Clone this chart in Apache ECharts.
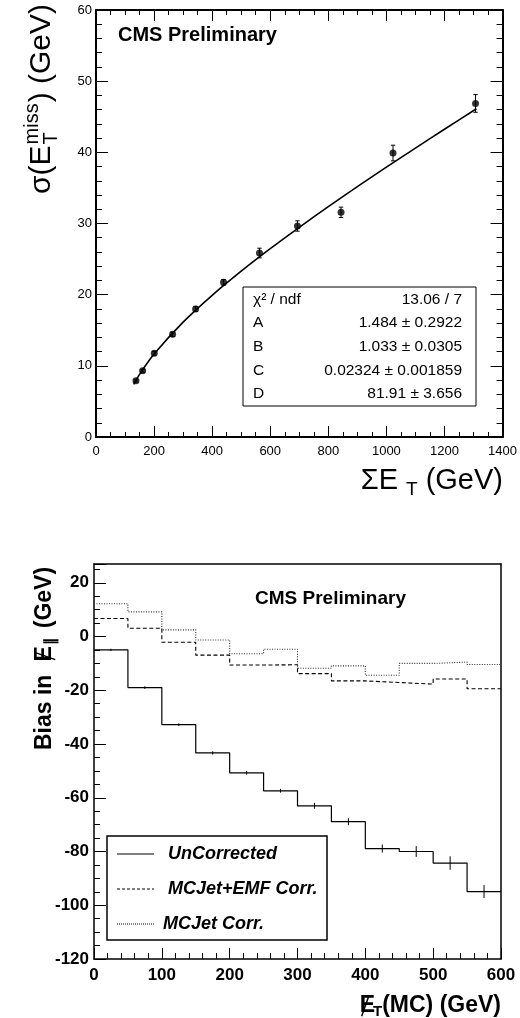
<!DOCTYPE html>
<html><head><meta charset="utf-8">
<script src="https://cdn.jsdelivr.net/npm/echarts@6/dist/echarts.min.js"></script>
<style>html,body{margin:0;padding:0;background:#fff}#c{width:520px;height:1018px}</style>
</head><body><div id="c"></div>
<script>
// ---------- Top panel: resolution vs sum ET ----------
const sumEt    = [137.6, 160.6, 200.6, 263.8, 343.0, 439.2, 563.0, 693.7, 843.8, 1022.8, 1307.0];
const sigmaMet = [7.9, 9.3, 11.76, 14.43, 17.99, 21.73, 25.85, 29.65, 31.57, 39.9, 46.87];
const sigmaErr = [0.15, 0.2, 0.25, 0.3, 0.35, 0.4, 0.68, 0.73, 0.73, 1.1, 1.24];
const fitX = [130, 150, 200, 300, 400, 500, 600, 700, 800, 900, 1000, 1100, 1200, 1310];
const fitY = [7.40, 8.80, 11.65, 16.14, 19.91, 23.30, 26.46, 29.46, 32.36, 35.17, 37.91, 40.60, 43.25, 46.12];
const topXTicks = [0, 200, 400, 600, 800, 1000, 1200, 1400];
const topYTicks = [0, 10, 20, 30, 40, 50, 60];
const statLabels = ['χ² / ndf', 'A', 'B', 'C', 'D'];
const statValues = ['13.06 / 7', '1.484 ± 0.2922', '1.033 ± 0.0305', '0.02324 ± 0.001859', '81.91 ± 3.656'];

// ---------- Bottom panel: bias histograms ----------
const binEdges    = [0, 50, 100, 150, 200, 250, 300, 350, 400, 450, 500, 550, 600];
const uncorrected = [-4.95, -19.0, -32.8, -43.3, -50.7, -57.4, -63.0, -68.9, -78.9, -80.0, -84.3, -94.9];
const uncorrErr   = [0.4, 0.5, 0.5, 0.6, 0.7, 0.7, 1.1, 1.3, 1.5, 2.0, 2.5, 2.4];
const mcjetEmf    = [6.7, 3.1, -2.1, -6.9, -10.6, -10.5, -13.8, -16.5, -17.1, -17.7, -15.8, -19.4];
const mcjet       = [12.2, 9.2, 2.5, -1.3, -6.4, -4.7, -11.8, -10.9, -14.4, -10.0, -9.5, -10.4];
const botXTicks = [0, 100, 200, 300, 400, 500, 600];
const botYRange = [-120, 27];
const legendNames = ['UnCorrected', 'MCJet+EMF Corr.', 'MCJet Corr.'];

const F = '"Liberation Sans", Arial, Helvetica, sans-serif';
const cv = document.createElement('canvas').getContext('2d');
function tw(s, size, weight, style) {
  cv.font = (style || 'normal') + ' ' + (weight || 'normal') + ' ' + size + 'px ' + F;
  return cv.measureText(s).width;
}
function txt(x, y, s, size, opts) {
  opts = opts || {};
  return {
    type: 'text', x: x, y: y, z: 100,
    style: {
      text: s, fill: '#000',
      font: (opts.style || 'normal') + ' ' + (opts.weight || 'normal') + ' ' + size + 'px ' + F,
      textAlign: opts.align || 'left', align: opts.align || 'left',
      textVerticalAlign: 'middle', verticalAlign: 'middle'
    }
  };
}
function ln(x1, y1, x2, y2, w, dash) {
  return { type: 'line', z: 100, shape: { x1, y1, x2, y2 },
    style: { stroke: '#000', lineWidth: w || 1, lineDash: dash || null } };
}

const chart = echarts.init(document.getElementById('c'));

const black = '#000';
function valAxis(o) {
  return Object.assign({
    type: 'value', splitLine: { show: false }, minorSplitLine: { show: false },
    axisLine: { show: true, onZero: false, lineStyle: { color: black, width: 2 } },
    axisTick: { show: true, inside: true, length: 11, lineStyle: { color: black, width: 1 } },
    minorTick: { show: false },
    axisLabel: { show: false }
  }, o);
}
const plain = v => String(v);
const topLbl = { show: true, color: black, fontSize: 13, fontFamily: F, formatter: plain };
const botLbl = { show: true, color: black, fontSize: 17, fontWeight: 'bold', fontFamily: F, formatter: plain };

// ---- Titles (graphic) ----
const graphics = [];
// top y title: sigma(E_T^miss) (GeV)
{
  const M = 30, S = 20;
  const a1 = tw('σ(E', M), aT = tw('T', S), aM = tw('miss', S), a2 = tw(') (GeV)', M);
  const mx = Math.max(aT, aM);
  const W = a1 + mx + 2 + a2;
  graphics.push({ type: 'group', x: 42, y: 4 + W, rotation: Math.PI / 2, children: [
    txt(0, 0, 'σ(E', M), txt(a1 + 1, 9, 'T', S), txt(a1 + 1, -10, 'miss', S),
    txt(a1 + mx + 2, 0, ') (GeV)', M)
  ]});
}
// top x title: SigmaE_T (GeV)
{
  const M = 29, S = 19;
  const g = tw('(GeV)', M), t = tw('T', S), e = tw('ΣE', M);
  const gx = 503 - g, tx = gx - 8 - t, ex = tx - 8 - e;
  graphics.push(txt(ex, 481, 'ΣE', M), txt(tx, 490, 'T', S), txt(gx, 481, '(GeV)', M));
}
graphics.push(txt(118, 35, 'CMS Preliminary', 20, { weight: 'bold' }));
// stats box
graphics.push({ type: 'rect', z: 99, shape: { x: 243, y: 287, width: 233, height: 119 },
  style: { fill: '#fff', stroke: '#000', lineWidth: 1 } });
statLabels.forEach((s, i) => {
  graphics.push(txt(253, 299.5 + i * 23.6, s, 15.5));
  graphics.push(txt(462, 299.5 + i * 23.6, statValues[i], 15.5, { align: 'right' }));
});
// bottom
graphics.push(txt(255, 599, 'CMS Preliminary', 19, { weight: 'bold' }));
// bottom y title: Bias in Eslash_par (GeV)
{
  const M = 23, S = 15;
  const b = tw('Bias in', M, 'bold'), e = tw('E', M, 'bold'), p = tw('∥', S, 'bold');
  const e0 = b + 13, p0 = e0 + e + 1, g0 = p0 + p + 9;
  const ch = 0.72 * M;
  graphics.push({ type: 'group', x: 45, y: 750, rotation: Math.PI / 2, children: [
    txt(0, 0, 'Bias in', M, { weight: 'bold' }),
    txt(e0, 0, 'E', M, { weight: 'bold' }),
    ln(e0 + 2, ch / 2 + 2, e0 + e * 0.6, -ch / 2 - 2, 1.5),
    txt(p0, 6, '∥', S, { weight: 'bold' }),
    txt(g0, 0, '(GeV)', M, { weight: 'bold' })
  ]});
}
// bottom x title: Eslash_T(MC) (GeV)
{
  const M = 23, S = 15;
  const r = tw('(MC) (GeV)', M, 'bold'), t = tw('T', S, 'bold'), e = tw('E', M, 'bold');
  const rx = 501 - r, tx = rx - t, ex = tx - e + 2;
  const ch = 0.72 * M, cy = 1006;
  graphics.push(txt(ex, cy, 'E', M, { weight: 'bold' }), ln(ex + 2, cy + ch / 2 + 2, ex + e * 0.6, cy - ch / 2 - 2, 1.5),
    txt(tx, cy + 6, 'T', S, { weight: 'bold' }), txt(rx, cy, '(MC) (GeV)', M, { weight: 'bold' }));
}
// legend
graphics.push({ type: 'rect', z: 99, shape: { x: 107, y: 836, width: 220, height: 104 },
  style: { fill: '#fff', stroke: '#000', lineWidth: 1.5 } });
const legDash = [null, [3, 2], [1, 1]];
const legY = [854, 889, 924];
const legX = [168, 168, 163];
legendNames.forEach((n, i) => {
  graphics.push(ln(117, legY[i], 154, legY[i], 1, legDash[i]));
  graphics.push(txt(legX[i], legY[i], n, 18, { weight: 'bold', style: 'italic' }));
});

const stepData = vals => binEdges.map((e, i) => [e, vals[Math.min(i, vals.length - 1)]]);
const binCenters = binEdges.slice(0, -1).map((e, i) => (e + binEdges[i + 1]) / 2);

function errRender(cap) {
  return function (params, api) {
    const x = api.value(0), y = api.value(1), e = api.value(2);
    const p1 = api.coord([x, y - e]), p2 = api.coord([x, y + e]);
    const ch = [{ type: 'line', shape: { x1: p1[0], y1: p1[1], x2: p2[0], y2: p2[1] }, style: { stroke: '#000', lineWidth: 1 } }];
    if (cap) {
      ch.push({ type: 'line', shape: { x1: p1[0] - cap, y1: p1[1], x2: p1[0] + cap, y2: p1[1] }, style: { stroke: '#000', lineWidth: 1 } });
      ch.push({ type: 'line', shape: { x1: p2[0] - cap, y1: p2[1], x2: p2[0] + cap, y2: p2[1] }, style: { stroke: '#000', lineWidth: 1 } });
    }
    return { type: 'group', children: ch };
  };
}

chart.setOption({
  animation: false,
  backgroundColor: '#fff',
  grid: [
    { left: 96, top: 10, width: 407, height: 427 },
    { left: 94, top: 564, width: 407, height: 395 }
  ],
  xAxis: [
    valAxis({ gridIndex: 0, position: 'bottom', min: topXTicks[0], max: topXTicks[topXTicks.length - 1], interval: 200,
      minorTick: { show: true, splitNumber: 4, length: 5, lineStyle: { color: black, width: 1 } },
      axisLabel: Object.assign({}, topLbl, { margin: 8 }) }),
    valAxis({ gridIndex: 0, position: 'top', min: topXTicks[0], max: topXTicks[topXTicks.length - 1], interval: 200,
      minorTick: { show: true, splitNumber: 4, length: 5, lineStyle: { color: black, width: 1 } } }),
    valAxis({ gridIndex: 1, position: 'bottom', min: botXTicks[0], max: botXTicks[botXTicks.length - 1], interval: 100,
      axisLine: { show: true, onZero: false, lineStyle: { color: black, width: 1.5 } },
      minorTick: { show: true, splitNumber: 5, length: 6, lineStyle: { color: black, width: 1 } },
      axisLabel: Object.assign({}, botLbl, { margin: 8 }) }),
    valAxis({ gridIndex: 1, position: 'top', min: botXTicks[0], max: botXTicks[botXTicks.length - 1], interval: 100,
      axisLine: { show: true, onZero: false, lineStyle: { color: black, width: 1.5 } },
      axisTick: { show: false } })
  ],
  yAxis: [
    valAxis({ gridIndex: 0, position: 'left', min: topYTicks[0], max: topYTicks[topYTicks.length - 1], interval: 10,
      axisTick: { show: true, inside: true, length: 12, lineStyle: { color: black, width: 1 } },
      minorTick: { show: true, splitNumber: 5, length: 6, lineStyle: { color: black, width: 1 } },
      axisLabel: Object.assign({}, topLbl, { margin: 4 }) }),
    valAxis({ gridIndex: 0, position: 'right', min: topYTicks[0], max: topYTicks[topYTicks.length - 1], interval: 10,
      axisTick: { show: true, inside: true, length: 12, lineStyle: { color: black, width: 1 } },
      minorTick: { show: true, splitNumber: 5, length: 6, lineStyle: { color: black, width: 1 } } }),
    valAxis({ gridIndex: 1, position: 'left', min: botYRange[0], max: botYRange[1], interval: 5,
      axisLine: { show: true, onZero: false, lineStyle: { color: black, width: 1.5 } },
      axisTick: { show: true, inside: true, length: 6, lineStyle: { color: black, width: 1 } },
      axisLabel: Object.assign({}, botLbl, { margin: 5, showMaxLabel: false,
        formatter: v => (v % 20 === 0 ? String(v) : '') }) }),
    valAxis({ gridIndex: 1, position: 'left', min: botYRange[0], max: botYRange[1], interval: 20,
      axisLine: { show: false },
      axisTick: { show: true, inside: true, length: 12, lineStyle: { color: black, width: 1 } } }),
    valAxis({ gridIndex: 1, position: 'right', min: botYRange[0], max: botYRange[1], interval: 20,
      axisLine: { show: true, onZero: false, lineStyle: { color: black, width: 1.5 } },
      axisTick: { show: false } })
  ],
  series: [
    { type: 'line', xAxisIndex: 0, yAxisIndex: 0, smooth: 0.3, symbol: 'none',
      lineStyle: { color: '#000', width: 1.6 }, data: fitX.map((x, i) => [x, fitY[i]]), z: 3 },
    { type: 'custom', xAxisIndex: 0, yAxisIndex: 0, renderItem: errRender(2.2),
      data: sumEt.map((x, i) => [x, sigmaMet[i], sigmaErr[i]]), z: 4 },
    { type: 'scatter', xAxisIndex: 0, yAxisIndex: 0, symbol: 'circle', symbolSize: 7,
      itemStyle: { color: '#000' }, data: sumEt.map((x, i) => [x, sigmaMet[i]]), z: 5 },
    { type: 'line', xAxisIndex: 2, yAxisIndex: 2, step: 'end', symbol: 'none',
      lineStyle: { color: '#000', width: 1.2 }, data: stepData(uncorrected) },
    { type: 'line', xAxisIndex: 2, yAxisIndex: 2, step: 'end', symbol: 'none',
      lineStyle: { color: '#000', width: 1.1, type: [4, 2.5] }, data: stepData(mcjetEmf) },
    { type: 'line', xAxisIndex: 2, yAxisIndex: 2, step: 'end', symbol: 'none',
      lineStyle: { color: '#333', width: 1.1, type: [1, 1.5] }, data: stepData(mcjet) },
    { type: 'custom', xAxisIndex: 2, yAxisIndex: 2, renderItem: errRender(0),
      data: binCenters.map((x, i) => [x, uncorrected[i], uncorrErr[i]]) }
  ],
  graphic: graphics
});
</script>
</body></html>
